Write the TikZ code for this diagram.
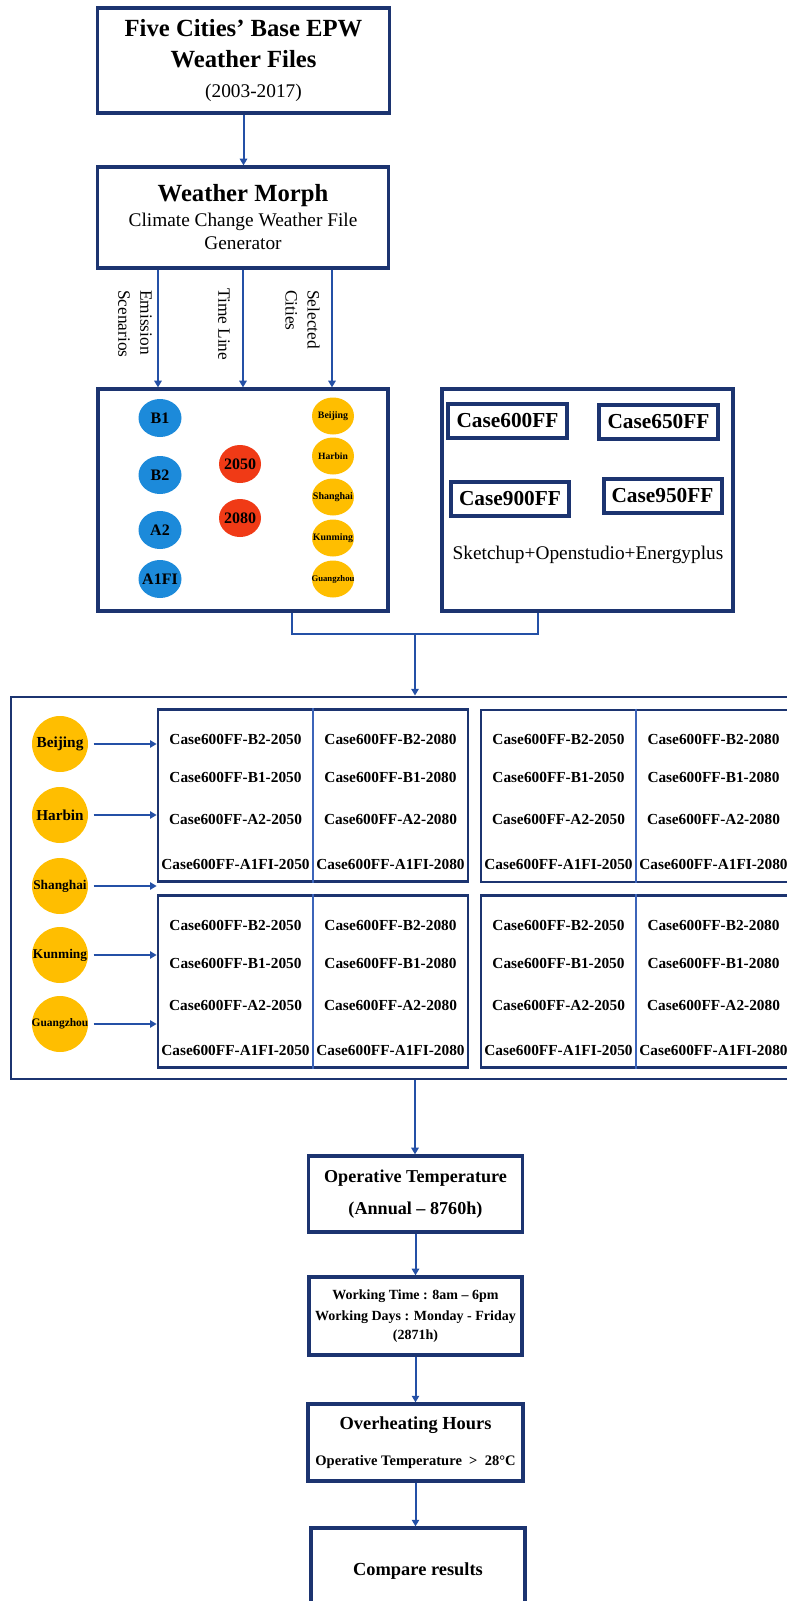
\documentclass[tikz,border=0pt]{standalone}
\usepackage{fontspec}
\setmainfont{Liberation Serif}
\usetikzlibrary{arrows.meta, shapes.geometric}
\definecolor{navy}{RGB}{28,52,112}
\definecolor{flow}{RGB}{36,80,166}
\definecolor{divline}{RGB}{60,100,185}
\definecolor{scenblue}{RGB}{28,138,218}
\definecolor{yearred}{RGB}{240,58,22}
\definecolor{cityor}{RGB}{255,190,0}
\newcommand{\fitin}[1]{\makebox[0pt]{#1}}

\begin{document}
\begin{tikzpicture}[x=0.75pt, y=-0.75pt,
        box/.style={draw=navy, line width=2.4pt, fill=white, align=center, inner sep=0pt},
        casebox/.style={draw=navy, line width=3pt, inner sep=0pt, minimum height=25.5pt, font=\fontsize{16}{18}\selectfont\bfseries},
        tab/.style={draw=navy, line width=2pt, inner sep=0pt, minimum width=232.5pt, minimum height=129pt},
        cell/.style={inner sep=0pt, font=\fontsize{11.5}{13}\selectfont\bfseries},
        ball/.style={ellipse, inner sep=0pt, font=\bfseries},
        sball/.style={ball, fill=scenblue, minimum width=32.25pt, minimum height=28.5pt, font=\fontsize{12}{14}\selectfont\bfseries},
        yball/.style={ball, fill=yearred, minimum width=31.5pt, minimum height=28.5pt, font=\fontsize{12}{14}\selectfont\bfseries},
        cball/.style={ball, fill=cityor, minimum width=31.5pt, minimum height=27.75pt},
        gball/.style={ball, fill=cityor, minimum width=42pt, minimum height=42pt},
        vlab/.style={rotate=-90, anchor=north west, align=left, inner sep=0pt, font=\fontsize{13}{16.5}\selectfont},
        arr/.style={draw=flow, line width=1.5pt, -{Triangle[length=5pt, width=5.5pt]}},
        lnk/.style={draw=flow, line width=1.5pt}]

        \useasboundingbox (0,0) rectangle (787,1601);
        \clip (0,0) rectangle (787,1601);

        % weather files and morphing tool
        \node[box, minimum width=219pt, minimum height=78.75pt, font=\fontsize{18.5}{23}\selectfont] (base) at (243.5,60.5)
            {\textbf{Five Cities' Base EPW}\\ \textbf{Weather Files}\\[-0.5pt] {\fontsize{14.5}{17}\selectfont\hspace*{15pt}(2003-2017)}};
        \node[box, minimum width=218.25pt, minimum height=75.75pt, font=\fontsize{14.5}{17.25}\selectfont] (morph) at (243,217.5)
            {{\fontsize{18.5}{20}\selectfont\bfseries Weather Morph}\\[1.5pt] Climate Change Weather File\\ Generator};
        \draw[arr] (base.south) -- (base.south |- morph.north);

        % scenarios, years, cities / building cases
        \node[box, minimum width=217.5pt, minimum height=166.5pt] (drivers) at (243,500) {};
        \node[box, minimum width=218.25pt, minimum height=166.5pt] (cases) at (587.5,500) {};

        \draw[arr] ([xshift=-63.75pt]morph.south) -- ([xshift=-63.75pt]drivers.north);
        \draw[arr] (morph.south) -- (drivers.north);
        \draw[arr] ([xshift=66.75pt]morph.south) -- ([xshift=66.75pt]drivers.north);
        \node[vlab] (lbl-es) at (152,290) {Emission\\Scenarios};
        \node[vlab] (lbl-tl) at (230,288) {Time Line};
        \node[vlab] (lbl-sc) at (320,290) {Selected\\Cities};

        \node[sball] (eB1) at (160,418) {\fitin{B1}};
        \node[sball] (eB2) at (160,475) {\fitin{B2}};
        \node[sball] (eA2) at (160,530) {\fitin{A2}};
        \node[sball] (eA1FI) at (160,579) {\fitin{A1FI}};
        \node[yball] (y2050) at (240,464) {\fitin{2050}};
        \node[yball] (y2080) at (240,518) {\fitin{2080}};
        \node[cball, font=\fontsize{7.4}{9}\selectfont\bfseries] (cBj) at (333,416) {\fitin{Beijing}};
        \node[cball, font=\fontsize{7.2}{9}\selectfont\bfseries] (cHb) at (333,456) {\fitin{Harbin}};
        \node[cball, font=\fontsize{7.5}{9}\selectfont\bfseries] (cSh) at (333,497) {\fitin{Shanghai}};
        \node[cball, font=\fontsize{7.4}{9}\selectfont\bfseries] (cKm) at (333,538) {\fitin{Kunming}};
        \node[cball, font=\fontsize{6.5}{8}\selectfont\bfseries] (cGz) at (333,579) {\fitin{Guangzhou}};

        \node[casebox, minimum width=89.25pt] (c600) at (507.5,421) {Case600FF};
        \node[casebox, minimum width=89.25pt] (c650) at (658.5,422) {Case650FF};
        \node[casebox, minimum width=88.5pt] (c900) at (510,498.5) {Case900FF};
        \node[casebox, minimum width=88.5pt] (c950) at (662.5,496) {Case950FF};
        \node[font=\fontsize{14.5}{17}\selectfont] (tools) at (588,555) {Sketchup+Openstudio+Energyplus};

        % simulation runs
        \node[draw=navy, line width=2.2pt, inner sep=0pt, minimum width=591.75pt, minimum height=286.5pt] (grid) at (405.5,888) {};
        \coordinate (join) at (415,634);
        \draw[lnk] ([xshift=36.75pt]drivers.south) |- (join) -| ([xshift=-37pt]cases.south);
        \draw[arr] (join) -- (join |- grid.north);

        \node[tab] (t1) at (313,795.5) {};
        \node[tab] (t2) at (313,981.5) {};
        \node[tab] (t3) at (636,796) {};
        \node[tab] (t4) at (636,981.5) {};
        \foreach \tb in {t1,t2,t3,t4}{
            \draw[divline, line width=1.1pt] (\tb.north) -- (\tb.south);
            \foreach \sc/\dy in {B2/31, B1/69, A2/111, A1FI/156}{
                \node[cell] (\tb-\sc-a) at ([shift={(-77.5,\dy)}]\tb.north) {Case600FF-\sc-2050};
                \node[cell] (\tb-\sc-b) at ([shift={(77.5,\dy)}]\tb.north) {Case600FF-\sc-2080};
            }
        }

        \node[gball, font=\fontsize{11.5}{13}\selectfont\bfseries] (gBj) at (60,744) {\fitin{Beijing}};
        \node[gball, font=\fontsize{11.4}{13}\selectfont\bfseries] (gHb) at (60,815) {\fitin{Harbin}};
        \node[gball, font=\fontsize{10}{12}\selectfont\bfseries] (gSh) at (60,886) {\fitin{Shanghai}};
        \node[gball, font=\fontsize{10}{12}\selectfont\bfseries] (gKm) at (60,955) {\fitin{Kunming}};
        \node[gball, font=\fontsize{8.6}{10}\selectfont\bfseries] (gGz) at (60,1024) {\fitin{Guangzhou}};
        \draw[arr, shorten <=4pt] (gBj.east) -- (gBj.east -| t1.west);
        \draw[arr, shorten <=4pt] (gHb.east) -- (gHb.east -| t1.west);
        \draw[arr, shorten <=4pt] (gSh.east) -- (gSh.east -| t1.west);
        \draw[arr, shorten <=4pt] (gKm.east) -- (gKm.east -| t2.west);
        \draw[arr, shorten <=4pt] (gGz.east) -- (gGz.east -| t2.west);

        % post-processing
        \node[box, minimum width=160.5pt, minimum height=57pt, font=\fontsize{13.6}{24}\selectfont\bfseries] (ot) at (415.5,1194)
            {Operative Temperature\\(Annual -- 8760h)};
        \node[box, minimum width=159.75pt, minimum height=58.5pt, font=\fontsize{10.5}{16}\selectfont\bfseries] (wt) at (415.5,1316)
            {Working Time : 8am -- 6pm\\Working Days : Monday - Friday\\[-2pt](2871h)};
        \node[box, minimum width=161.25pt, minimum height=57.75pt, font=\fontsize{13.8}{17}\selectfont\bfseries] (oh) at (415.5,1442.5)
            {Overheating Hours\\[10pt]{\fontsize{10.9}{13}\selectfont Operative Temperature\ \ >\ \ 28°C}};
        \node[box, minimum width=160.5pt, minimum height=64.5pt, font=\fontsize{13.8}{17}\selectfont\bfseries] (cr) at (418,1571) {Compare results};

        \draw[arr] (join |- grid.south) -- (join |- ot.north);
        \draw[arr] (ot.south) -- (ot.south |- wt.north);
        \draw[arr] (wt.south) -- (wt.south |- oh.north);
        \draw[arr] (oh.south) -- (oh.south |- cr.north);
    \end{tikzpicture}
\end{document}
